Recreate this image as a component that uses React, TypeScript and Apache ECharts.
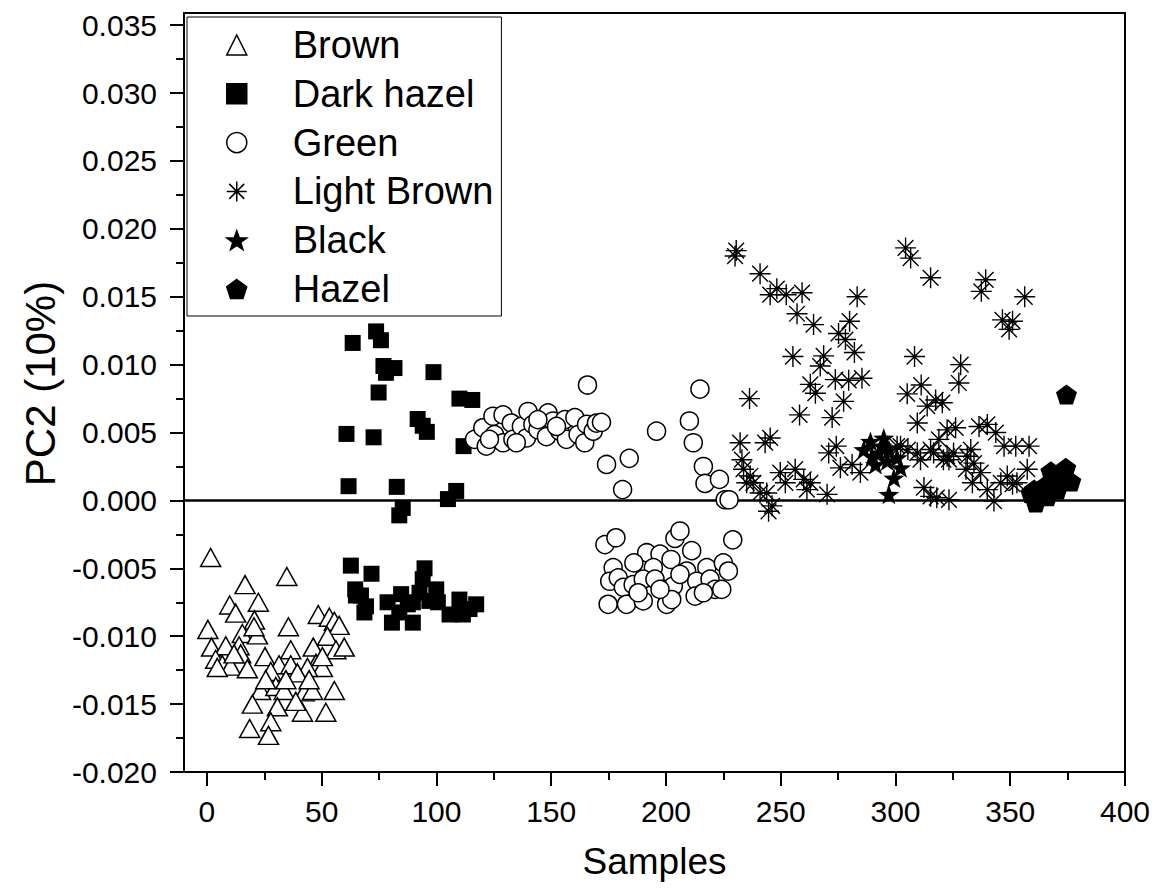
import React, { useEffect, useRef } from 'react';
import * as echarts from 'echarts';

const FONT = '"Liberation Sans", Arial, Helvetica, sans-serif';

const seriesNames = ['Brown', 'Dark hazel', 'Green', 'Light Brown', 'Black', 'Hazel'];

const xTickValues = [0, 50, 100, 150, 200, 250, 300, 350, 400];
const xMinorTickValues = [25, 75, 125, 175, 225, 275, 325, 375];
const yTickValues = [-0.02, -0.015, -0.01, -0.005, 0, 0.005, 0.01, 0.015, 0.02, 0.025, 0.03, 0.035];
const yMinorTickValues = [-0.0175, -0.0125, -0.0075, -0.0025, 0.0025, 0.0075, 0.0125, 0.0175, 0.0225, 0.0275, 0.0325];

const brown = [
  [1.6, -0.0042], [34.8, -0.0056], [16.6, -0.0062], [9.9, -0.0077], [22.4, -0.0075], [12.5, -0.0083],
  [20.7, -0.0088], [48.5, -0.0084], [53.3, -0.0086], [55.5, -0.0089], [57.6, -0.0092], [35.5, -0.0093],
  [0.4, -0.0095], [15.4, -0.0098], [22, -0.0099], [52.5, -0.0100], [2, -0.0108], [8.2, -0.0107],
  [14, -0.0107], [36.5, -0.0110], [46.3, -0.0108], [56.2, -0.0110], [59.8, -0.0108], [14.7, -0.0113],
  [25.3, -0.0115], [3.8, -0.0117], [6.7, -0.0121], [10.3, -0.0122], [4.5, -0.0123], [17.6, -0.0124],
  [31.4, -0.0121], [36.5, -0.0121], [47.5, -0.0120], [50.3, -0.0123], [43.8, -0.0123], [27.8, -0.0126],
  [39.4, -0.0127], [23.4, -0.0140], [30, -0.0137], [33.6, -0.0140], [42.4, -0.0141], [46, -0.0140],
  [55.5, -0.0140], [19.8, -0.0150], [30.7, -0.0152], [41.6, -0.0156], [51.8, -0.0156], [27.8, -0.0163],
  [18.6, -0.0168], [26.8, -0.0173], [38.7, -0.0148], [34.4, -0.0132], [25.6, -0.0132], [44.5, -0.0132],
  [20.5, -0.0093], [11.8, -0.0113], [50.3, -0.0115]
];

const darkHazel = [
  [63.5, 0.0116], [73.7, 0.01245], [75.8, 0.0118], [76.9, 0.0099], [81.7, 0.00975], [78, 0.0094],
  [98.7, 0.00945], [74.8, 0.00795], [110, 0.0075], [115.6, 0.0074], [91.8, 0.0060], [94, 0.0055],
  [95.8, 0.00505], [60.8, 0.0049], [72.6, 0.00465], [111.8, 0.0040], [61.7, 0.00105], [82.7, 0.0010],
  [108.6, 0.0007], [105, 0.0001], [85.3, -0.00055], [83.8, -0.0011],
  [62.7, -0.0048], [71.7, -0.0054], [94.8, -0.0050], [94, -0.0058], [64.6, -0.00655], [67.1, -0.0070],
  [69.3, -0.0078], [68.6, -0.00825], [78.7, -0.0075], [84.6, -0.0069], [87.5, -0.00765], [80.6, -0.0090],
  [89.7, -0.0090], [92.6, -0.0068], [99.9, -0.00655], [100.6, -0.0075], [105.7, -0.0084], [110, -0.0073],
  [114.4, -0.0080], [117.3, -0.00765], [111.5, -0.0084], [96.9, -0.0074], [89.7, -0.0075], [64.9, -0.0070],
  [83.8, -0.00825]
];

const green = [
  [116.6, 0.0045], [120.2, 0.00535], [121.7, 0.0040], [124.6, 0.0062], [125.3, 0.00485], [129, 0.0063],
  [129, 0.00425], [132.6, 0.0057], [133.3, 0.0045], [137, 0.00545], [139.9, 0.00655], [139.2, 0.0046],
  [142, 0.0056], [144.2, 0.0052], [147.9, 0.0047], [148.6, 0.00645], [150.8, 0.00585], [153.7, 0.0051],
  [155.9, 0.00595], [156.6, 0.0045], [160.3, 0.0061], [161.7, 0.00485], [164.6, 0.00425], [165.4, 0.0056],
  [168.3, 0.0051], [169.7, 0.0057], [171.9, 0.00575], [134.8, 0.00425], [123.1, 0.0045], [144.2, 0.00595],
  [152.3, 0.00545],
  [165.8, 0.0085], [214.8, 0.0082], [195.9, 0.0051], [210.2, 0.00585], [211.9, 0.00425], [174.1, 0.00265],
  [184, 0.0031], [181.1, 0.0008], [216.3, 0.0025], [217, 0.00125], [223.3, 0.00155], [225.8, 0.00005],
  [227.5, 0.00005], [229.1, -0.0029],
  [173.4, -0.00325], [178.2, -0.00275], [203.9, -0.0028], [206.1, -0.00225], [211.2, -0.0037], [191.6, -0.00385],
  [197.4, -0.00395], [186, -0.0046], [202.2, -0.00435], [177, -0.00495], [194.5, -0.00495], [209, -0.0052],
  [217.8, -0.00495], [225, -0.0046], [227.2, -0.0052], [175.5, -0.00595], [179.2, -0.0057], [181.4, -0.0064],
  [185.7, -0.0062], [190.1, -0.0058], [195.2, -0.0058], [198.8, -0.00655], [203.2, -0.0063], [206.1, -0.00545],
  [213.4, -0.00595], [219.2, -0.0058], [221.4, -0.00655], [224.3, -0.00655], [174.8, -0.00765], [182.8, -0.00765],
  [190.1, -0.0074], [200.3, -0.00765], [202.5, -0.0073], [212.7, -0.00705], [187.9, -0.0068], [197.4, -0.00655],
  [216.3, -0.0068]
];

const lightBrown = [
  [230.6, 0.0184], [230.1, 0.0180], [241, 0.0167], [248.3, 0.0156], [245.4, 0.01515], [252.4, 0.01515],
  [259.3, 0.0153], [257.1, 0.01375], [264.3, 0.01295], [283.3, 0.0150], [275.2, 0.0123], [280, 0.0132],
  [278.2, 0.01185], [282.1, 0.0109], [255.3, 0.0106], [268.7, 0.01065], [267.2, 0.0099], [262.9, 0.00855],
  [265.1, 0.0079], [273.8, 0.0089], [279.6, 0.00885], [285.4, 0.0090], [277.4, 0.0073], [236.4, 0.0075],
  [258.2, 0.0063], [272.4, 0.0061], [308.3, 0.0106], [305.1, 0.00785], [311.2, 0.0085], [317.5, 0.0074],
  [320.4, 0.0072], [313.8, 0.00695], [309.5, 0.0057], [304.4, 0.0186], [306.6, 0.01785], [315.3, 0.0164],
  [232.3, 0.00425], [245.4, 0.0046], [243.2, 0.00425], [274.2, 0.0040], [270.9, 0.0035], [233.1, 0.0030],
  [233.8, 0.0023], [236.7, 0.0018], [238.1, 0.0013], [241, 0.00055], [249.8, 0.00205], [252, 0.0013],
  [256.3, 0.0023], [260, 0.00155], [261.4, 0.0008], [270.2, 0.00045], [244.7, -0.0008], [246.2, -0.0004],
  [276, 0.0024], [281.1, 0.00265], [284.7, 0.00205], [243.9, 0.00055], [235.2, 0.0013], [262.9, 0.0013],
  [300.7, 0.0040], [305.4, 0.00375], [310.9, 0.0030], [315.3, 0.00375], [318.9, 0.0045], [322.5, 0.0052],
  [322.5, 0.00325], [312.4, 0.00095], [315.3, 0.0003], [323.3, 0.00005], [318, 0.0002],
  [339.3, 0.01625], [337.4, 0.0154], [356.3, 0.0150], [346.6, 0.0133], [351, 0.0132], [349.5, 0.0126],
  [328.4, 0.0100], [327.6, 0.00865], [326.2, 0.00535], [336.4, 0.00545], [340, 0.0056], [343.7, 0.0050],
  [347.3, 0.0040], [352.4, 0.0040], [358.2, 0.0040], [332.8, 0.00375], [331.3, 0.00325], [334.2, 0.00275],
  [330.7, 0.0023], [325.3, 0.0035], [320.9, 0.0030], [316.6, 0.0035], [323.3, 0.0030], [345.9, 0.0013],
  [351, 0.0012], [342.9, -0.00005], [340, 0.0008], [357.4, 0.0023], [352.9, 0.0013], [333.5, 0.0013],
  [337.1, 0.00205], [348.7, 0.0018], [302.2, 0.0040], [309.5, 0.0035]
];

const black = [
  [289.1, 0.00435], [294.9, 0.0046], [286.2, 0.00375], [292.7, 0.0035], [297.1, 0.00375], [300.7, 0.00315],
  [291.3, 0.00265], [296.4, 0.0029], [302.2, 0.0024], [299.3, 0.00165], [297.1, 0.00045], [289.8, 0.00325],
  [294.2, 0.0040]
];

const hazel = [
  [374.5, 0.0078], [374.2, 0.0024], [367.7, 0.00215], [376.4, 0.0014], [369.9, 0.0014], [364.8, 0.00105],
  [360.4, 0.0008], [366.2, 0.0003], [361.1, -0.00015], [370.5, 0.0008], [372.7, 0.0019], [359, 0.00055],
  [363.5, 0.00055]
];

const STAR = 'path://M0,-10 L2.35,-3.24 L9.51,-3.09 L3.8,1.24 L5.88,8.09 L0,4 L-5.88,8.09 L-3.8,1.24 L-9.51,-3.09 L-2.35,-3.24 Z';
const PENTAGON = 'path://M0,-10 L9.51,-3.09 L5.88,8.09 L-5.88,8.09 L-9.51,-3.09 Z';
const ASTERISK = 'path://M0,-10 L0,10 M-10,0 L10,0 M-7.5,-7.5 L7.5,7.5 M-7.5,7.5 L7.5,-7.5';

export default function App() {
  const ref = useRef<HTMLDivElement>(null);
  useEffect(() => {
    if (!ref.current) return;
    const chart = echarts.init(ref.current, undefined, { renderer: 'svg' });
    const axisLineStyle = { color: '#000', width: 2 };
    const labelStyle = { color: '#000', fontSize: 30, fontFamily: FONT };
    chart.setOption({
      animation: false,
      backgroundColor: '#fff',
      textStyle: { fontFamily: FONT },
      grid: {
        left: 184, right: 35, top: 13, bottom: 122,
        show: true, borderColor: '#000', borderWidth: 2, backgroundColor: 'transparent'
      },
      legend: {
        orient: 'vertical',
        left: 187,
        top: 17,
        padding: [9, 8, 8, 39],
        itemWidth: 20,
        itemHeight: 20,
        itemGap: 10.8,
        borderColor: '#000',
        borderWidth: 1,
        backgroundColor: '#fff',
        selectedMode: false,
        itemStyle: { borderWidth: 1.5, opacity: 1 },
        textStyle: { fontSize: 38, lineHeight: 36, color: '#000', fontFamily: FONT, padding: [0, 0, 0, 41] },
        data: seriesNames
      },
      xAxis: [
        {
          type: 'value', min: -10, max: 400, position: 'bottom',
          name: 'Samples', nameLocation: 'middle', nameGap: 71,
          nameTextStyle: { fontSize: 37, color: '#000', fontFamily: FONT },
          axisLine: { show: true, onZero: false, lineStyle: axisLineStyle },
          axisTick: { show: true, inside: false, length: 14, lineStyle: axisLineStyle, customValues: xTickValues },
          axisLabel: { ...labelStyle, margin: 24, customValues: xTickValues },
          splitLine: { show: false }
        },
        {
          type: 'value', min: -10, max: 400, position: 'bottom',
          axisLine: { show: false, onZero: false },
          axisTick: { show: true, inside: false, length: 8, lineStyle: axisLineStyle, customValues: xMinorTickValues },
          axisLabel: { show: false },
          splitLine: { show: false }
        }
      ],
      yAxis: [
        {
          type: 'value', min: -0.02, max: 0.0359, position: 'left',
          name: 'PC2 (10%)', nameLocation: 'middle', nameGap: 121,
          nameTextStyle: { fontSize: 42, color: '#000', fontFamily: FONT, padding: [0, 0, 0, 18] },
          axisLine: { show: true, onZero: false, lineStyle: axisLineStyle },
          axisTick: { show: true, inside: false, length: 14, lineStyle: axisLineStyle, customValues: yTickValues },
          axisLabel: { ...labelStyle, margin: 27, customValues: yTickValues, formatter: (v: number) => v.toFixed(3) },
          splitLine: { show: false }
        },
        {
          type: 'value', min: -0.02, max: 0.0359, position: 'left',
          axisLine: { show: false, onZero: false },
          axisTick: { show: true, inside: false, length: 8, lineStyle: axisLineStyle, customValues: yMinorTickValues },
          axisLabel: { show: false },
          splitLine: { show: false }
        }
      ],
      series: [
        {
          name: 'Brown', type: 'scatter', data: brown, symbol: 'triangle', symbolSize: [20, 18],
          itemStyle: { color: '#fff', borderColor: '#000', borderWidth: 1.5, opacity: 1 },
          emphasis: { disabled: true },
          markLine: {
            silent: true, z: 1, symbol: ['none', 'none'], label: { show: false },
            lineStyle: { color: '#000', width: 2.5, type: 'solid', opacity: 1 },
            data: [{ yAxis: 0 }]
          }
        },
        {
          name: 'Dark hazel', type: 'scatter', data: darkHazel, symbol: 'rect', symbolSize: 16,
          itemStyle: { color: '#000', borderColor: '#000', borderWidth: 0, opacity: 1 },
          emphasis: { disabled: true }
        },
        {
          name: 'Green', type: 'scatter', data: green, symbol: 'circle', symbolSize: 18,
          itemStyle: { color: '#fff', borderColor: '#000', borderWidth: 1.5, opacity: 1 },
          emphasis: { disabled: true }
        },
        {
          name: 'Light Brown', type: 'scatter', data: lightBrown, symbol: ASTERISK, symbolSize: 21,
          itemStyle: { color: 'rgba(0,0,0,0)', borderColor: '#000', borderWidth: 1.4, opacity: 1 },
          emphasis: { disabled: true }
        },
        {
          name: 'Black', type: 'scatter', data: black, symbol: STAR, symbolSize: 21, symbolKeepAspect: true,
          itemStyle: { color: '#000', borderColor: '#000', borderWidth: 0, opacity: 1 },
          emphasis: { disabled: true }
        },
        {
          name: 'Hazel', type: 'scatter', data: hazel, symbol: PENTAGON, symbolSize: 21, symbolKeepAspect: true,
          itemStyle: { color: '#000', borderColor: '#000', borderWidth: 0, opacity: 1 },
          emphasis: { disabled: true }
        }
      ]
    });
    return () => chart.dispose();
  }, []);
  return (
    <div
      ref={ref}
      style={{ position: 'absolute', left: 0, top: 0, width: 1160, height: 894, background: '#fff' }}
    />
  );
}
